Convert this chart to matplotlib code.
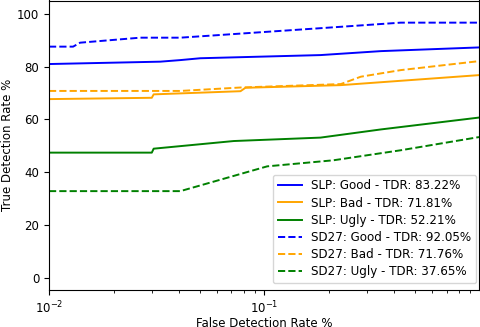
import matplotlib
matplotlib.use("Agg")
import matplotlib.pyplot as plt

# SLP curves
slp_good_x = [0.01, 0.0328, 0.0407, 0.0504, 0.182, 0.347, 0.99]
slp_good_y = [81.0, 81.9, 82.5, 83.2, 84.4, 85.9, 87.3]
slp_bad_x = [0.01, 0.01, 0.0300, 0.0306, 0.0774, 0.0816, 0.226, 0.99]
slp_bad_y = [57.8, 67.7, 68.2, 69.5, 70.7, 72.0, 73.0, 76.8]
slp_ugly_x = [0.01, 0.0300, 0.0306, 0.0720, 0.182, 0.347, 0.99]
slp_ugly_y = [47.4, 47.4, 48.9, 51.8, 53.1, 56.2, 60.7]

# SD27 curves
sd_good_x = [0.01, 0.01294, 0.01394, 0.0265, 0.0407, 0.182, 0.429, 0.99]
sd_good_y = [87.6, 87.6, 89.1, 91.0, 91.0, 94.6, 96.7, 96.7]
sd_bad_x = [0.01, 0.0407, 0.0774, 0.226, 0.280, 0.429, 0.99]
sd_bad_y = [70.8, 70.8, 72.1, 73.4, 76.2, 78.7, 82.1]
sd_ugly_x = [0.01, 0.0407, 0.103, 0.209, 0.429, 0.99]
sd_ugly_y = [32.8, 32.8, 42.2, 44.5, 48.3, 53.3]

labels = ["SLP: Good - TDR: 83.22%", "SLP: Bad - TDR: 71.81%", "SLP: Ugly - TDR: 52.21%",
          "SD27: Good - TDR: 92.05%", "SD27: Bad - TDR: 71.76%", "SD27: Ugly - TDR: 37.65%"]
colors = ["blue", "orange", "green"]

plt.rcParams["font.size"] = 8.5

fig = plt.figure(figsize=(4.81, 3.27), dpi=100)
ax = fig.add_axes([49 / 481, 37 / 327, 430 / 481, 289.5 / 327])

series = [(slp_good_x, slp_good_y), (slp_bad_x, slp_bad_y), (slp_ugly_x, slp_ugly_y),
          (sd_good_x, sd_good_y), (sd_bad_x, sd_bad_y), (sd_ugly_x, sd_ugly_y)]
for i, (x, y) in enumerate(series):
    ls = "-" if i < 3 else "--"
    ax.plot(x, y, color=colors[i % 3], linestyle=ls, linewidth=1.4, label=labels[i])

ax.set_xscale("log")
ax.set_xlim(0.01, 0.99)
ax.set_ylim(-4.7, 105.1)
ax.set_xlabel("False Detection Rate %", labelpad=0.5)
ax.set_ylabel("True Detection Rate %", labelpad=2)
ax.legend(loc="lower right", bbox_to_anchor=(0.993, 0.024), borderaxespad=0,
          labelspacing=0.35, fontsize=8.6)

fig.savefig("out.png", dpi=100)
